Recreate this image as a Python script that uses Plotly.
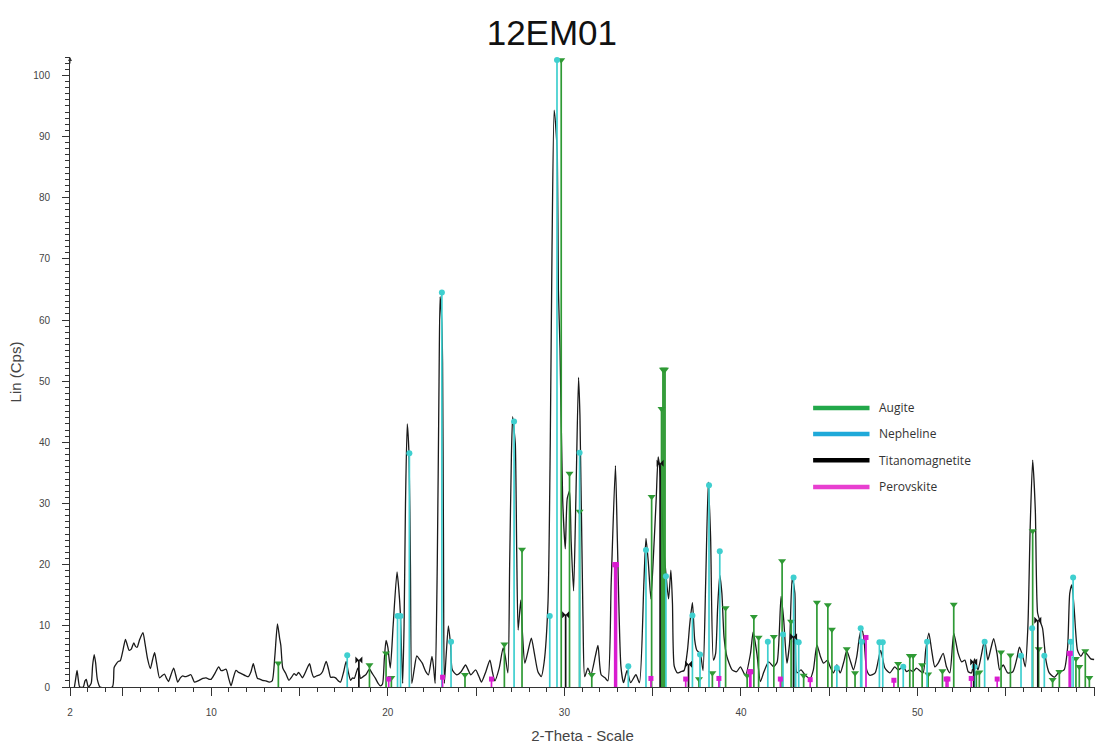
import plotly.graph_objects as go

# ---------------- data ----------------
two_theta = [2.25,2.33,2.4,2.47,2.55,2.75,2.85,2.92,3.0,3.05,3.2,3.28,3.37,3.45,3.55,3.7,4.4,4.5,4.62,4.75,4.85,5.0,5.14,5.25,5.35,5.47,5.61,5.72,5.8,5.95,6.13,6.25,6.4,6.55,6.68,6.79,6.9,7.07,7.2,7.35,7.47,7.58,7.72,7.87,8.0,8.1,8.25,8.38,8.52,8.66,8.85,8.95,9.05,9.25,9.52,9.71,9.85,9.99,10.2,10.42,10.55,10.65,10.84,10.98,11.12,11.25,11.4,11.55,11.7,11.97,12.1,12.25,12.38,12.5,12.62,12.75,12.9,13.1,13.28,13.45,13.6,13.75,13.87,13.94,14.05,14.22,14.4,14.55,14.69,14.82,14.94,15.05,15.16,15.3,15.45,15.57,15.68,15.8,15.95,16.15,16.3,16.51,16.65,16.76,16.9,17.04,17.2,17.32,17.5,17.64,17.75,17.89,18.0,18.1,18.3,18.4,18.45,18.6,18.75,18.96,19.12,19.3,19.45,19.58,19.7,19.8,19.9,20.0,20.14,20.3,20.52,20.62,20.71,20.84,20.92,21.0,21.1,21.2,21.28,21.36,21.5,21.64,21.8,21.95,22.15,22.3,22.5,22.6,22.68,22.8,22.9,22.96,23.05,23.1,23.15,23.2,23.3,23.43,23.55,23.65,23.9,24.15,24.4,24.55,24.7,24.97,25.15,25.3,25.55,25.78,25.92,26.06,26.3,26.53,26.65,26.8,26.9,27.0,27.07,27.15,27.22,27.3,27.38,27.53,27.62,27.76,27.95,28.13,28.3,28.5,28.69,28.85,29.07,29.2,29.3,29.42,29.5,29.6,29.66,29.75,29.9,30.05,30.16,30.29,30.38,30.52,30.65,30.8,30.88,31.05,31.15,31.33,31.5,31.75,31.9,32.08,32.3,32.46,32.65,32.89,33.0,33.2,33.35,33.55,33.75,34.05,34.25,34.5,34.62,34.75,34.9,35.05,35.2,35.31,35.45,35.6,35.75,35.9,36.03,36.12,36.22,36.4,36.6,36.78,36.97,37.1,37.25,37.38,37.5,37.7,37.85,38.0,38.15,38.28,38.44,38.56,38.68,38.8,38.92,39.04,39.2,39.5,39.75,39.97,40.25,40.54,40.69,40.9,41.1,41.3,41.57,41.85,42.05,42.27,42.42,42.6,42.75,42.9,43.05,43.17,43.4,43.65,43.92,44.1,44.3,44.5,44.68,44.9,45.05,45.24,45.43,45.62,45.85,45.99,46.18,46.37,46.56,46.71,46.84,46.97,47.12,47.3,47.6,47.91,48.15,48.43,48.71,48.9,49.19,49.38,49.56,49.75,49.94,50.31,50.46,50.64,50.8,50.98,51.17,51.45,51.64,51.83,52.05,52.3,52.5,52.68,52.87,53.05,53.23,53.42,53.6,53.8,53.98,54.17,54.31,54.5,54.65,54.85,55.11,55.4,55.62,55.77,55.96,56.1,56.25,56.38,56.52,56.67,56.8,56.93,57.08,57.27,57.46,57.74,58.03,58.3,58.5,58.62,58.74,58.87,59.06,59.25,59.43,59.62,59.81,60.0]
intensity = [0,1.5,2.7,1.2,0,0,1.0,1.25,0.3,0,0.6,3.5,5.3,4.0,1.2,0,0,3.2,3.8,4.2,4.3,6.0,7.8,6.8,6.0,6.2,7.2,6.6,6.5,7.8,8.9,7.1,4.5,3.0,4.5,5.6,4.0,1.5,1.8,2.1,1.4,0.9,2.0,3.1,1.8,0.8,1.5,1.8,1.7,1.8,2.0,1.4,0.8,1.0,1.4,1.5,1.3,1.25,2.2,3.3,2.7,2.7,2.9,1.5,0.2,1.5,2.7,2.4,2.2,1.8,1.7,2.5,3.8,2.5,1.4,1.3,1.1,1.0,0.8,1.0,5.0,10.3,8.0,6.8,3.1,2.2,1.1,1.6,2.2,1.9,2.4,2.0,1.5,2.2,3.2,3.8,2.5,1.6,1.8,2.0,2.5,4.2,2.8,1.6,1.6,1.5,1.0,0.8,2.5,4.2,2.6,1.1,1.5,1.4,3.1,2.0,1.4,1.7,2.0,2.9,2.2,1.4,0.6,0.2,0.5,4.5,7.6,6.5,3.1,10.0,18.8,16.0,12.0,0.6,10,30,43,38,20,0.6,3.0,5.1,4.5,3.9,2.5,2.0,5.0,3.0,0.6,20,50,63.8,60,53,25,0.6,5,10,7,2.8,2.0,2.5,3.6,2.8,2.0,2.8,1.8,0.8,2.5,4.4,2.5,1.0,3.0,6.4,5.0,2.3,20,38,44.2,42,39.8,22,9.3,14.2,9,3.9,6.0,8.0,5.5,2.5,1.7,4.0,13.7,40,72,94.3,92,86.8,65,55.4,30.8,22.6,30.8,32,24,15.7,30.8,50.6,44.4,11.6,1.7,3.1,2.0,5.0,6.8,2.0,1.5,1.0,17,36.2,24,3.4,0.7,2.7,0.7,2.0,0.7,17,24.3,20.5,14.4,21.9,30.8,37.6,34.2,24,18.5,14.4,19.1,13.7,3.4,2.3,2.5,2.7,6.0,10.3,13.8,7.7,6.0,5.4,2.7,17,33.5,24.5,4.4,5.4,13.1,18.3,15.3,8.2,5.0,2.8,2.5,3.3,1.9,5.5,9.0,5.5,0.9,2.5,4.1,3.3,4.1,14.8,11,3.9,7.1,17.8,15.4,2.3,2.8,1.9,1.4,2.8,6.9,5.0,3.9,4.4,3.3,2.3,3.6,2.3,4.4,6.0,4.4,2.8,5.0,8.2,9.6,7.7,2.8,1.9,2.3,6.0,3.1,2.3,3.3,2.8,3.3,2.5,2.8,2.5,3.1,2.3,6.0,8.8,6.0,3.3,3.9,5.5,3.3,2.3,8.8,5.5,4.1,4.4,2.5,2.3,4.6,2.8,5.0,7.7,4.4,6.5,7.9,5.5,2.8,3.6,2.3,2.5,4.6,6.5,5.0,3.3,9.9,26.2,37.1,28.9,12.1,10.8,9.6,4.4,2.3,1.6,2.5,2.8,6.5,15.3,16.7,12.8,6.0,5.0,5.8,5.3,4.6,4.5]

augite_pos = [13.8,18.96,19.9,20.2,24.37,26.6,27.6,29.82,30.29,30.86,31.55,34.94,35.5,35.58,35.64,35.7,37.62,38.38,39.13,40.35,40.73,41.0,41.86,42.33,42.84,43.55,44.3,44.92,45.15,45.99,46.46,48.9,49.56,49.75,50.26,50.6,51.41,52.05,53.33,53.5,54.73,55.26,56.52,56.86,57.65,58.03,58.97,59.16,59.5,59.73]
augite_h = [3.9,3.6,5.5,1.5,2.0,7.0,22.5,102.5,34.9,28.7,2.0,31.1,45.5,51.9,51.9,51.9,1.3,2.3,12.9,1.9,11.5,8.1,8.2,20.6,10.7,1.9,13.8,13.4,9.4,6.2,2.3,3.8,5.1,5.1,3.6,2.1,2.6,13.5,2.3,2.4,5.7,5.2,25.5,6.2,1.2,2.5,4.6,3.3,5.9,1.5]

nepheline_pos = [17.7,20.55,20.72,21.22,23.06,23.58,27.15,29.17,29.58,30.86,33.62,34.62,35.75,37.25,37.68,38.19,38.8,41.52,42.38,42.98,43.1,43.27,45.43,46.78,46.84,47.84,48.03,49.19,50.54,53.23,53.8,55.86,56.49,57.18,58.68,58.81]
nepheline_h = [5.2,11.6,11.6,38.2,64.5,7.4,43.4,11.6,102.5,38.3,3.4,22.4,18.1,11.7,5.3,33.0,22.2,7.4,8.6,17.9,7.5,7.3,3.1,9.6,7.4,7.3,7.3,3.3,7.4,3.3,7.4,5.1,9.6,5.1,7.4,17.9]

titano_pos = [18.36,30.07,35.42,37.03,42.98,53.18,56.81]
titano_h = [4.4,11.8,36.6,3.7,8.2,4.1,10.9]

perovskite_pos = [20.05,23.1,25.87,32.85,32.9,32.95,34.9,36.87,38.75,40.5,40.56,42.23,43.92,47.08,48.66,51.62,51.72,53.04,54.51,58.59,58.65]
perovskite_h = [1.3,1.6,1.3,20.0,20.0,20.0,1.4,1.3,1.4,2.5,2.5,1.3,1.2,8.1,1.1,1.3,1.3,1.4,1.3,5.5,5.5]

phase_names = ["Augite", "Nepheline", "Titanomagnetite", "Perovskite"]
x_ticks = [2, 5, 10, 15, 20, 25, 30, 35, 40, 45, 50, 55, 60]
x_ticktext = ["2", "", "10", "", "20", "", "30", "", "40", "", "50", "", "60"]

# ---------------- figure ----------------
def sticks(pos, h):
    xs, ys = [], []
    for p, v in zip(pos, h):
        xs += [p, p, None]
        ys += [0, v, None]
    return xs, ys

fig = go.Figure()

fig.add_trace(go.Scatter(x=two_theta, y=intensity, mode="lines",
                         line=dict(color="#1a1a1a", width=1.3, shape="spline", smoothing=0.6),
                         showlegend=False, hoverinfo="x+y"))

phases = [
    (augite_pos, augite_h, "#2f9a35", "triangle-down", 7),
    (nepheline_pos, nepheline_h, "#3fcfcf", "circle", 6),
    (titano_pos, titano_h, "#111111", "bowtie", 7),
    (perovskite_pos, perovskite_h, "#d81ccf", "square", 5),
]
for name, (pos, h, col, sym, sz) in zip(phase_names, phases):
    sx, sy = sticks(pos, h)
    fig.add_trace(go.Scatter(x=sx, y=sy, mode="lines", line=dict(color=col, width=1.7),
                             showlegend=False, name=name, hoverinfo="skip"))
    fig.add_trace(go.Scatter(x=pos, y=h, mode="markers",
                             marker=dict(symbol=sym, size=sz, color=col, line=dict(width=0)),
                             showlegend=False, name=name))

# legend drawn as shapes + text
legend_cols = ["#22a84a", "#1fa9d9", "#000000", "#e83fd0"]
legend_y = [0.443, 0.4016, 0.360, 0.3175]
for name, col, yy in zip(phase_names, legend_cols, legend_y):
    fig.add_shape(type="line", xref="paper", yref="paper", x0=0.725, x1=0.780, y0=yy, y1=yy,
                  line=dict(color=col, width=4.5))
    fig.add_annotation(xref="paper", yref="paper", x=0.787, y=yy, text=name, showarrow=False,
                       xanchor="left", yanchor="middle",
                       font=dict(family="Open Sans, Arial", size=12, color="#333333"))

# arrow at top of y axis
fig.add_annotation(xref="paper", yref="paper", x=0, y=1.0, ax=0, ay=8, axref="pixel", ayref="pixel",
                   showarrow=True, arrowhead=2, arrowsize=0.8, arrowwidth=1, arrowcolor="#333333", text="")

axis_font = dict(family="Liberation Sans, Arial", size=10, color="#444444")
fig.update_layout(
    width=1095, height=745,
    margin=dict(l=70, r=0, t=57, b=58),
    plot_bgcolor="white", paper_bgcolor="white",
    title=dict(text="12EM01", x=0.504, xref="container", xanchor="center",
               y=1 - 33 / 745, yref="container", yanchor="middle",
               font=dict(family="Liberation Sans, Arial", size=35, color="#111111")),
    xaxis=dict(range=[2, 60.05], tickmode="array", tickvals=x_ticks, ticktext=x_ticktext,
               ticks="outside", ticklen=8, tickcolor="#333333", tickwidth=1,
               minor=dict(dtick=1, tick0=0, ticks="outside", ticklen=4, tickcolor="#333333"),
               showline=True, linecolor="#333333", linewidth=1, showgrid=False, zeroline=False,
               tickfont=axis_font, ticklabelstandoff=8, automargin=False,
               title=dict(text="2-Theta - Scale", standoff=13,
                          font=dict(family="Liberation Sans, Arial", size=15, color="#444444"))),
    yaxis=dict(range=[0, 103], dtick=10, tick0=0,
               ticks="outside", ticklen=7, tickcolor="#333333", tickwidth=1,
               minor=dict(dtick=1, tick0=0, ticks="outside", ticklen=4, tickcolor="#333333"),
               showline=True, linecolor="#333333", linewidth=1, showgrid=False, zeroline=False,
               tickfont=axis_font, ticklabelstandoff=10, automargin=False,
               title=dict(text="Lin (Cps)", standoff=8,
                          font=dict(family="Liberation Sans, Arial", size=15, color="#444444"))),
)

fig.write_html("out.html", config={"displayModeBar": False},
               post_script="document.body.style.margin='0px';")
